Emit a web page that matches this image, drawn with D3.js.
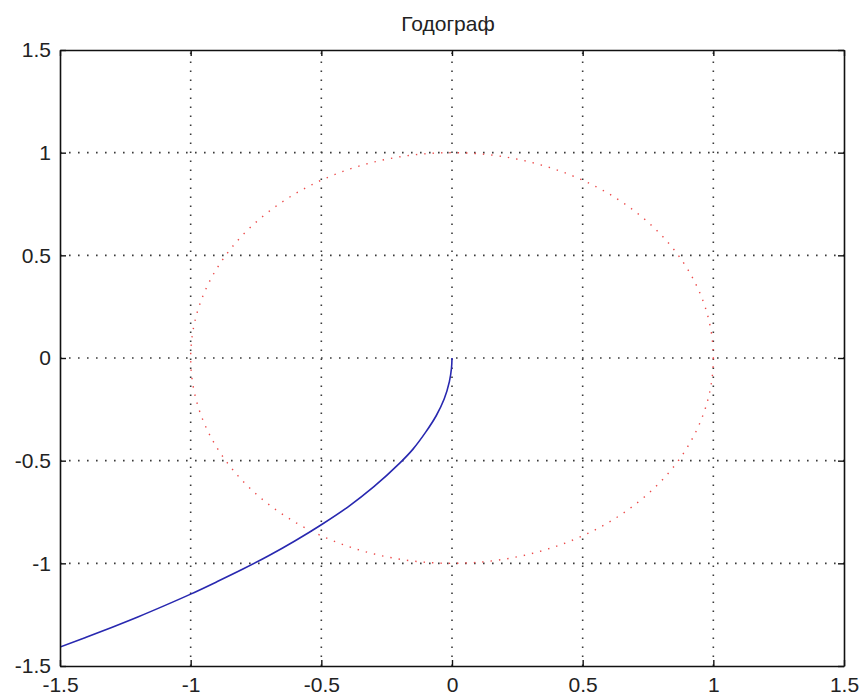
<!DOCTYPE html>
<html>
<head>
<meta charset="utf-8">
<script src="https://cdn.jsdelivr.net/npm/d3@7"></script>
<style>
  html, body { margin: 0; padding: 0; background: #ffffff; }
  svg { display: block; }
  text { font-family: "Liberation Sans", Arial, sans-serif; fill: #222; }
</style>
</head>
<body>
<svg id="chart" width="864" height="699"></svg>
<script>
// Hodograph curve (blue), sampled points
const curveX = [0.000, -0.002, -0.010, -0.030, -0.060, -0.100, -0.150, -0.200, -0.300, -0.400, -0.500, -0.600, -0.700, -0.800, -0.900, -1.000, -1.100, -1.200, -1.300, -1.400, -1.500, -1.600];
const curveY = [0.000, -0.050, -0.115, -0.200, -0.280, -0.360, -0.445, -0.512, -0.628, -0.727, -0.812, -0.890, -0.962, -1.028, -1.090, -1.150, -1.206, -1.260, -1.311, -1.360, -1.408, -1.454];

// Unit circle (red dotted)
const circleCenter = [0, 0];
const circleRadius = 1;

// Axes
const xDomain = [-1.5, 1.5];
const yDomain = [-1.5, 1.5];
const xTicks = [-1.5, -1, -0.5, 0, 0.5, 1, 1.5];
const yTicks = [-1.5, -1, -0.5, 0, 0.5, 1, 1.5];
const xTickLabels = ["-1.5", "-1", "-0.5", "0", "0.5", "1", "1.5"];
const yTickLabels = ["-1.5", "-1", "-0.5", "0", "0.5", "1", "1.5"];
const gridX = [-1, -0.5, 0, 0.5, 1];
const gridY = [-1, -0.5, 0, 0.5, 1];
const chartTitle = "Годограф";

const svg = d3.select("#chart");
const mLeft = 60, mRight = 844, mTop = 50, mBottom = 666;

const x = d3.scaleLinear().domain(xDomain).range([mLeft, mRight]);
const y = d3.scaleLinear().domain(yDomain).range([mBottom, mTop]);

svg.append("rect").attr("width", 864).attr("height", 699).attr("fill", "#ffffff");

svg.append("defs").append("clipPath").attr("id", "plotclip")
  .append("rect").attr("x", mLeft).attr("y", mTop)
  .attr("width", mRight - mLeft).attr("height", mBottom - mTop);

// Dotted grid
const grid = svg.append("g").attr("stroke", "#3a3a3a").attr("stroke-width", 1.6)
  .attr("stroke-dasharray", "1.6,7.4");
grid.selectAll("line.gx").data(gridX).join("line").attr("class", "gx")
  .attr("x1", d => x(d)).attr("x2", d => x(d))
  .attr("y1", mBottom).attr("y2", mTop);
grid.selectAll("line.gy").data(gridY).join("line").attr("class", "gy")
  .attr("y1", d => y(d)).attr("y2", d => y(d))
  .attr("x1", mLeft).attr("x2", mRight);

const plot = svg.append("g").attr("clip-path", "url(#plotclip)");

// Red dotted unit circle
plot.append("ellipse")
  .attr("cx", x(circleCenter[0])).attr("cy", y(circleCenter[1]))
  .attr("rx", x(circleCenter[0] + circleRadius) - x(circleCenter[0]))
  .attr("ry", y(circleCenter[1]) - y(circleCenter[1] + circleRadius))
  .attr("fill", "none").attr("stroke", "#ec4a4a").attr("stroke-width", 1.4)
  .attr("stroke-dasharray", "1.4,7");

// Blue hodograph line
const pts = curveX.map((v, i) => [v, curveY[i]]);
plot.append("path")
  .datum(pts)
  .attr("fill", "none").attr("stroke", "#2828b0").attr("stroke-width", 1.6)
  .attr("d", d3.line().x(d => x(d[0])).y(d => y(d[1])).curve(d3.curveCatmullRom.alpha(0.5)));

// Axes with inward ticks on all four sides
const fmtX = d => xTickLabels[xTicks.indexOf(d)];
const fmtY = d => yTickLabels[yTicks.indexOf(d)];

const axB = svg.append("g").attr("transform", `translate(0,${mBottom})`)
  .call(d3.axisBottom(x).tickValues(xTicks).tickFormat(fmtX).tickSize(-6).tickSizeOuter(0).tickPadding(11));
const axL = svg.append("g").attr("transform", `translate(${mLeft},0)`)
  .call(d3.axisLeft(y).tickValues(yTicks).tickFormat(fmtY).tickSize(-6).tickSizeOuter(0).tickPadding(9));
const axT = svg.append("g").attr("transform", `translate(0,${mTop})`)
  .call(d3.axisTop(x).tickValues(xTicks).tickFormat("").tickSize(-6).tickSizeOuter(0));
const axR = svg.append("g").attr("transform", `translate(${mRight},0)`)
  .call(d3.axisRight(y).tickValues(yTicks).tickFormat("").tickSize(-6).tickSizeOuter(0));

[axB, axL, axT, axR].forEach(g => {
  g.selectAll("path.domain").attr("stroke", "#111").attr("stroke-width", 1.6);
  g.selectAll(".tick line").attr("stroke", "#111").attr("stroke-width", 1.4);
  g.selectAll(".tick text").attr("font-size", 21).attr("fill", "#2a2a2a")
    .attr("font-family", "'Liberation Sans', Arial, sans-serif");
});

svg.append("text")
  .attr("x", 448).attr("y", 31)
  .attr("text-anchor", "middle").attr("font-size", 21)
  .attr("fill", "#2a2a2a")
  .text(chartTitle);
</script>
</body>
</html>
